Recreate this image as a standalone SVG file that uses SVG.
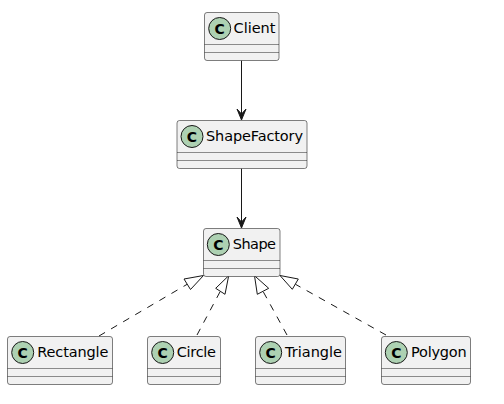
<svg xmlns="http://www.w3.org/2000/svg" width="504" height="404" viewBox="0 0 504 404">
<style>
.box{fill:#F1F1F1;stroke:#181818;stroke-opacity:.55;stroke-width:1}
.sep{stroke:#181818;stroke-opacity:.6;stroke-width:.8}
.spot{fill:#ADD1B2;stroke:#181818;stroke-width:1}
.c{font-family:"DejaVu Sans",sans-serif;font-size:14px;font-weight:bold;fill:#000;text-anchor:middle}
.name{font-family:"DejaVu Sans",sans-serif;font-size:14.5px;fill:#000}
.line{stroke:#181818;stroke-width:1;fill:none}
.dash{stroke-dasharray:7,7}
.tri{fill:#fff;stroke:#181818;stroke-width:1}
.open{fill:#181818;stroke:#181818;stroke-width:1}
</style>
<rect width="504" height="404" fill="#fff"/>
<g id="connectors">
<path class="line" d="M241.5 60.5V115"/>
<polygon class="open" points="241.5,120 237,109 241.5,114 246,109"/>
<path class="line" d="M241.5 168.5V223"/>
<polygon class="open" points="241.5,228 237,217 241.5,222 246,217"/>
<path class="line dash" d="M99 336L187.3 284.2"/>
<polygon class="tri" points="203.5,275.5 190.5,289.5 184,279"/>
<path class="line dash" d="M197 335L220.3 291.3"/>
<polygon class="tri" points="228.7,275.7 225,294.3 215.7,288.3"/>
<path class="line dash" d="M287 335L263 291.3"/>
<polygon class="tri" points="254.5,275.7 268.7,288.3 257.3,294.3"/>
<path class="line dash" d="M386 335L295.3 284.2"/>
<polygon class="tri" points="280,275.5 298.3,279 292.3,289.3"/>
</g>
<g id="Client">
<rect class="box" x="204.5" y="12.5" width="74.5" height="48" rx="2.5"/>
<path class="sep" d="M204.5 44.5H279M204.5 52.5H279"/>
<circle class="spot" cx="219.7" cy="28.5" r="11"/>
<text class="c" x="219.7" y="33.5">C</text>
<text class="name" x="233.5" y="33" textLength="42">Client</text>
</g>
<g id="ShapeFactory">
<rect class="box" x="177" y="120.5" width="130" height="48" rx="2.5"/>
<path class="sep" d="M177 152.5H307M177 160.5H307"/>
<circle class="spot" cx="192" cy="136.5" r="11"/>
<text class="c" x="192" y="141.5">C</text>
<text class="name" x="206" y="141" textLength="97">ShapeFactory</text>
</g>
<g id="Shape">
<rect class="box" x="203.5" y="228.5" width="76.5" height="48" rx="2.5"/>
<path class="sep" d="M203.5 260.5H280M203.5 268.5H280"/>
<circle class="spot" cx="218.3" cy="244.5" r="11"/>
<text class="c" x="218.3" y="249.5">C</text>
<text class="name" x="232.7" y="249" textLength="43.3">Shape</text>
</g>
<g id="Rectangle">
<rect class="box" x="7.5" y="336.5" width="105" height="48" rx="2.5"/>
<path class="sep" d="M7.5 368.5H112.5M7.5 376.5H112.5"/>
<circle class="spot" cx="22.7" cy="352.5" r="11"/>
<text class="c" x="22.7" y="357.5">C</text>
<text class="name" x="37.3" y="357" textLength="71">Rectangle</text>
</g>
<g id="Circle">
<rect class="box" x="147.5" y="336.5" width="73" height="48" rx="2.5"/>
<path class="sep" d="M147.5 368.5H220.5M147.5 376.5H220.5"/>
<circle class="spot" cx="162.7" cy="352.5" r="11"/>
<text class="c" x="162.7" y="357.5">C</text>
<text class="name" x="176.7" y="357" textLength="39.3">Circle</text>
</g>
<g id="Triangle">
<rect class="box" x="255.5" y="336.5" width="90" height="48" rx="2.5"/>
<path class="sep" d="M255.5 368.5H345.5M255.5 376.5H345.5"/>
<circle class="spot" cx="270.7" cy="352.5" r="11"/>
<text class="c" x="270.7" y="357.5">C</text>
<text class="name" x="285" y="357" textLength="57">Triangle</text>
</g>
<g id="Polygon">
<rect class="box" x="381.5" y="336.5" width="89" height="48" rx="2.5"/>
<path class="sep" d="M381.5 368.5H470.5M381.5 376.5H470.5"/>
<circle class="spot" cx="396.3" cy="352.5" r="11"/>
<text class="c" x="396.3" y="357.5">C</text>
<text class="name" x="411" y="357" textLength="55.7">Polygon</text>
</g>
</svg>
